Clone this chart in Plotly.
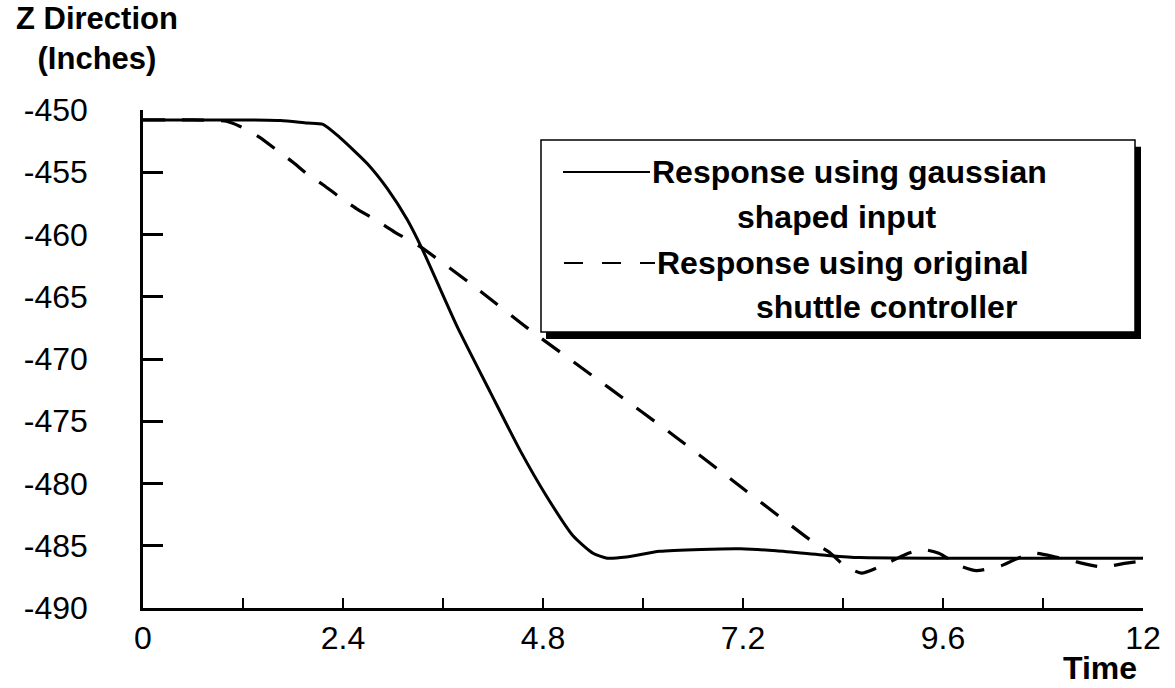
import plotly.graph_objects as go

# ---- data ----
time_gaussian = [0, 1.2, 1.65, 1.97, 2.16, 2.36, 2.69, 2.93, 3.17, 3.36, 3.77, 4.17, 4.53,
                 4.85, 5.16, 5.4, 5.57, 5.8, 6.2, 6.7, 7.17, 7.6, 8.25, 8.6, 9.6, 12]
z_gaussian = [-450.8, -450.8, -450.85, -451.05, -451.15, -452.2, -454.3, -456.3, -458.8, -461.3,
              -467.4, -472.7, -477.4, -481.1, -484.2, -485.6, -486.0, -485.9, -485.45, -485.3,
              -485.25, -485.4, -485.8, -485.95, -486.0, -486.0]

time_original = [0, 0.6, 1.0, 1.16, 1.4, 1.62, 1.8, 1.98, 2.16, 2.36, 2.58, 2.81, 3.02, 3.33,
                 4.0, 4.61, 5.59, 6.4, 7.2, 8.04, 8.25, 8.4, 8.62, 8.9, 9.15, 9.35, 9.55, 9.8,
                 10.0, 10.3, 10.5, 10.7, 10.95, 11.2, 11.5, 11.8, 12.0]
z_original = [-450.8, -450.8, -450.9, -451.3, -452.2, -453.3, -454.2, -455.2, -456.0, -457.0,
              -458.0, -458.9, -459.8, -461.0, -464.3, -467.5, -472.3, -476.3, -480.4, -484.7,
              -485.6, -486.5, -487.2, -486.5, -485.7, -485.3, -485.6, -486.6, -487.0, -486.6,
              -486.0, -485.6, -485.9, -486.3, -486.7, -486.4, -486.2]

x_tick_values = [0, 1.2, 2.4, 3.6, 4.8, 6.0, 7.2, 8.4, 9.6, 10.8, 12]
x_tick_labels = ["0", "", "2.4", "", "4.8", "", "7.2", "", "9.6", "", "12"]
y_tick_values = [-490, -485, -480, -475, -470, -465, -460, -455, -450]
y_tick_labels = ["-490", "-485", "-480", "-475", "-470", "-465", "-460", "-455", "-450"]

legend_solid = ["Response using gaussian", "shaped input"]
legend_dashed = ["Response using original", "shuttle controller"]
y_title = ["Z Direction", "(Inches)"]
x_title = "Time"

FONT = "Liberation Sans, Arial, Helvetica, sans-serif"

fig = go.Figure()
fig.add_trace(go.Scatter(x=time_gaussian, y=z_gaussian, mode="lines",
                         line=dict(color="black", width=3, shape="spline", smoothing=0.6),
                         showlegend=False, hoverinfo="skip"))
fig.add_trace(go.Scatter(x=time_original, y=z_original, mode="lines",
                         line=dict(color="black", width=3.2, dash="22px,17px",
                                   shape="spline", smoothing=0.6),
                         showlegend=False, hoverinfo="skip"))

fig.update_layout(
    width=1175, height=688,
    margin=dict(l=143, r=32, t=110, b=80, pad=0),
    paper_bgcolor="white", plot_bgcolor="white",
    font=dict(family=FONT, size=32, color="black"),
    showlegend=False,
)
fig.update_xaxes(range=[0, 12], showgrid=False, zeroline=False,
                 showline=True, linecolor="black", linewidth=2.5,
                 tickmode="array", tickvals=x_tick_values, ticktext=x_tick_labels,
                 ticks="inside", ticklen=10, tickwidth=2, tickcolor="black",
                 ticklabelstandoff=0,
                 tickfont=dict(family=FONT, size=32, color="black"))
fig.update_yaxes(range=[-490, -450], showgrid=False, zeroline=False,
                 showline=True, linecolor="black", linewidth=2.5,
                 tickmode="array", tickvals=y_tick_values, ticktext=y_tick_labels,
                 ticks="inside", ticklen=20, tickwidth=2.5, tickcolor="black",
                 ticklabelstandoff=46,
                 tickfont=dict(family=FONT, size=32, color="black"))

# ---- legend box with drop shadow (paper coords) ----
fig.add_shape(type="rect", xref="paper", yref="paper", x0=0.403, x1=0.998, y0=0.540, y1=0.926,
              fillcolor="black", line=dict(width=0), layer="above")
fig.add_shape(type="rect", xref="paper", yref="paper", x0=0.398, x1=0.992, y0=0.554, y1=0.940,
              fillcolor="white", line=dict(color="black", width=1.5), layer="above")
fig.add_shape(type="line", xref="paper", yref="paper", x0=0.420, x1=0.507, y0=0.8755, y1=0.8755,
              line=dict(color="black", width=2), layer="above")
fig.add_shape(type="line", xref="paper", yref="paper", x0=0.421, x1=0.512, y0=0.6928, y1=0.6928,
              line=dict(color="black", width=2, dash="19px,19px"), layer="above")

bold = dict(family=FONT, size=32, color="black", weight="bold")
fig.add_annotation(xref="paper", yref="paper", x=0.507, y=0.8755, text=legend_solid[0],
                   showarrow=False, xanchor="left", yanchor="middle", font=bold)
fig.add_annotation(xref="paper", yref="paper", x=0.592, y=0.7851, text=legend_solid[1],
                   showarrow=False, xanchor="left", yanchor="middle", font=bold)
fig.add_annotation(xref="paper", yref="paper", x=0.512, y=0.6928, text=legend_dashed[0],
                   showarrow=False, xanchor="left", yanchor="middle", font=bold)
fig.add_annotation(xref="paper", yref="paper", x=0.611, y=0.6044, text=legend_dashed[1],
                   showarrow=False, xanchor="left", yanchor="middle", font=bold)

# ---- axis titles ----
title_font = dict(family=FONT, size=31, color="black", weight="bold")
fig.add_annotation(xref="paper", yref="paper", x=-0.046, y=1.1426,
                   text=y_title[0] + "<br>" + y_title[1], align="center",
                   showarrow=False, xanchor="center", yanchor="middle", font=title_font)
fig.add_annotation(xref="paper", yref="paper", x=0.957, y=-0.1205, text=x_title,
                   showarrow=False, xanchor="center", yanchor="middle",
                   font=dict(family=FONT, size=32, color="black", weight="bold"))

fig.write_html("out.html")
